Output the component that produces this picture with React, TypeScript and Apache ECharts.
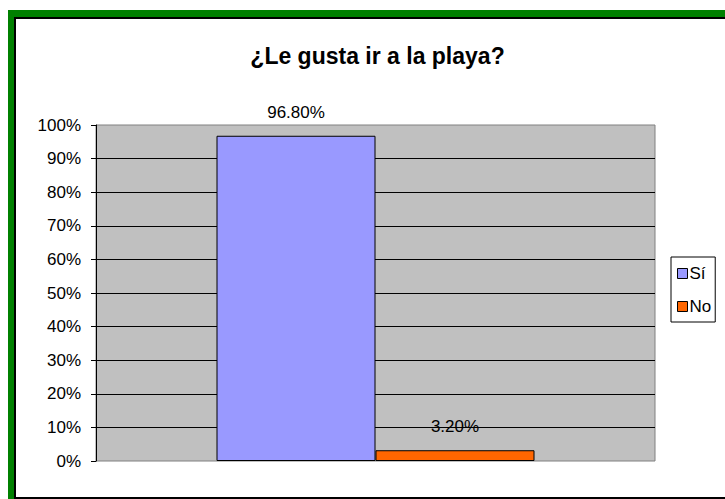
import React, { useEffect, useRef } from "react";
import * as echarts from "echarts";

const categories: string[] = [""];
const seriesNames: string[] = ["Sí", "No"];
const siValues: number[] = [96.8];
const noValues: number[] = [3.2];
const seriesColors: string[] = ["#9999ff", "#ff6600"];
const titleText = "¿Le gusta ir a la playa?";

const FONT = "'Liberation Sans', Arial, Helvetica, sans-serif";

export default function App() {
  const ref = useRef<HTMLDivElement>(null);
  useEffect(() => {
    if (!ref.current) return;
    const chart = echarts.init(ref.current, undefined, { renderer: "svg" });
    const label = {
      show: true,
      position: "top" as const,
      distance: 15,
      color: "#000",
      fontSize: 17,
      fontFamily: FONT,
      formatter: (p: any) => p.value.toFixed(2) + "%",
    };
    chart.setOption({
      animation: false,
      backgroundColor: "transparent",
      title: {
        text: titleText,
        left: 372.5,
        top: 39,
        textAlign: "center",
        textStyle: { fontSize: 23, fontWeight: "bold", fontFamily: FONT, color: "#000" },
      },
      legend: {
        orient: "vertical",
        left: 671,
        top: 257,
        data: seriesNames,
        icon: "rect",
        itemWidth: 10,
        itemHeight: 10,
        itemGap: 16,
        borderColor: "#000",
        borderWidth: 1,
        borderRadius: 0,
        padding: [8, 4, 7, 6],
        backgroundColor: "#fff",
        textStyle: { fontSize: 17, fontFamily: FONT, color: "#000", padding: [0, 0, 0, -3] },
        itemStyle: { borderColor: "#000", borderWidth: 1 },
      },
      grid: {
        left: 96,
        top: 125,
        width: 559,
        height: 336,
        show: true,
        backgroundColor: "#c0c0c0",
        borderColor: "#808080",
        borderWidth: 1,
      },
      xAxis: {
        type: "category",
        data: categories,
        axisLine: { show: false },
        axisTick: { show: false },
        axisLabel: { show: false },
      },
      yAxis: {
        type: "value",
        min: 0,
        max: 100,
        interval: 10,
        axisLine: { show: true, lineStyle: { color: "#000", width: 1 } },
        axisTick: { show: true, length: 5, lineStyle: { color: "#000" } },
        axisLabel: {
          formatter: "{value}%",
          fontSize: 17,
          fontFamily: FONT,
          color: "#000",
          margin: 15,
        },
        splitLine: {
          show: true,
          showMinLine: false,
          showMaxLine: false,
          lineStyle: { color: "#000", width: 1 },
        },
      },
      series: [
        {
          name: seriesNames[0],
          type: "bar",
          data: siValues,
          barWidth: 159,
          barGap: "0%",
          itemStyle: { color: seriesColors[0], borderColor: "#000", borderWidth: 1 },
          label,
        },
        {
          name: seriesNames[1],
          type: "bar",
          data: noValues,
          barWidth: 159,
          barGap: "0%",
          itemStyle: { color: seriesColors[1], borderColor: "#000", borderWidth: 1 },
          label,
        },
      ],
    });
    return () => chart.dispose();
  }, []);

  return (
    <div
      style={{
        position: "fixed",
        left: 0,
        top: 0,
        width: 725,
        height: 499,
        overflow: "hidden",
        background: "#fff",
      }}
    >
      <div style={{ position: "absolute", left: 8, top: 10, width: 800, height: 800, background: "#008000" }} />
      <div style={{ position: "absolute", left: 14, top: 17, width: 800, height: 482, background: "#000" }} />
      <div style={{ position: "absolute", left: 16, top: 19, width: 800, height: 478, background: "#fff" }} />
      <div ref={ref} style={{ position: "absolute", left: 0, top: 0, width: 725, height: 499 }} />
    </div>
  );
}
